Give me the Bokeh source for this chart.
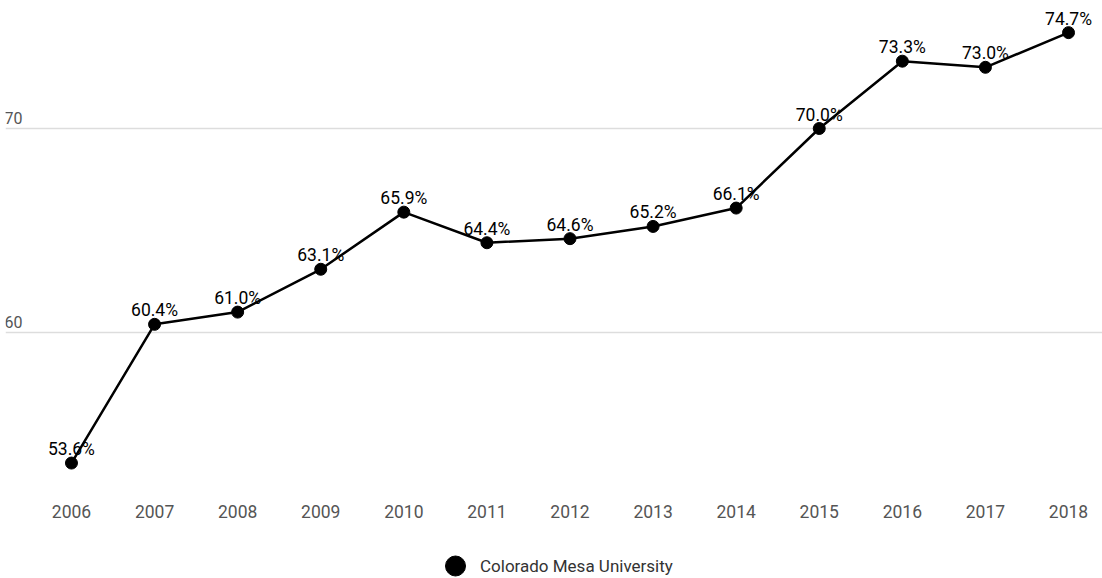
from bokeh.plotting import figure
from bokeh.layouts import column
from bokeh.models import ColumnDataSource, Legend, LegendItem, FixedTicker, Range1d
from bokeh.core.properties import value
from bokeh.embed import file_html
from bokeh.resources import INLINE

years = [2006, 2007, 2008, 2009, 2010, 2011, 2012, 2013, 2014, 2015, 2016, 2017, 2018]
rates = [53.6, 60.4, 61.0, 63.1, 65.9, 64.4, 64.6, 65.2, 66.1, 70.0, 73.3, 73.0, 74.7]
y_ticks = [60, 70]
series_name = "Colorado Mesa University"

src = ColumnDataSource(dict(x=years, y=rates, lab=[f"{v:.1f}%" for v in rates]))

p = figure(width=1102, height=540, output_backend="svg", toolbar_location=None,
           x_range=Range1d(2005.206, 2018.409), y_range=Range1d(52.255, 76.275),
           min_border_left=5, min_border_right=0, min_border_top=0, min_border_bottom=50)
p.outline_line_color = None
p.background_fill_color = "white"
p.border_fill_color = "white"

p.yaxis.visible = False
p.xgrid.visible = False
p.ygrid.ticker = FixedTicker(ticks=y_ticks)
p.ygrid.grid_line_color = "#dddddd"
p.ygrid.grid_line_width = 1.5

ax = p.xaxis[0]
ax.ticker = FixedTicker(ticks=years)
ax.axis_line_color = None
ax.major_tick_line_color = None
ax.minor_tick_line_color = None
ax.major_tick_out = 0
ax.major_tick_in = 0
ax.major_label_standoff = 14
ax.major_label_text_font = "Roboto"
ax.major_label_text_font_size = "17.5px"
ax.major_label_text_color = "#555555"

# y tick labels drawn inside the frame (clipped at left like the reference)
ysrc = ColumnDataSource(dict(x=[2005.206] * len(y_ticks), y=y_ticks, t=[str(v) for v in y_ticks]))
p.text(x="x", y="y", text="t", source=ysrc, x_offset=-1, y_offset=-5,
       text_font=value("Roboto"), text_font_size="16px", text_color="#555555",
       text_align="left", text_baseline="bottom")

p.text(x="x", y="y", text="lab", source=src, y_offset=-4,
       text_font=value("Roboto"), text_font_size="17.5px", text_color="#000000",
       text_align="center", text_baseline="bottom")
p.line(x="x", y="y", source=src, line_color="black", line_width=2.5)
p.scatter(x="x", y="y", source=src, size=12, fill_color="black", line_color="black")

# legend strip below the chart
p2 = figure(width=1102, height=38, output_backend="svg", toolbar_location=None,
            x_range=Range1d(0, 1), y_range=Range1d(0, 1),
            min_border_left=0, min_border_right=0, min_border_top=0, min_border_bottom=0)
p2.outline_line_color = None
p2.axis.visible = False
p2.grid.visible = False
r2 = p2.scatter(x=[-10], y=[-10], size=12, fill_color="black", line_color="black")
legend = Legend(items=[LegendItem(label=series_name, renderers=[r2])],
                location=(425, -14), orientation="horizontal",
                glyph_width=50, glyph_height=53, label_standoff=0,
                padding=0, margin=0, border_line_color=None, background_fill_alpha=0,
                label_text_font="Roboto", label_text_font_size="17px",
                label_text_color="#333333")
p2.add_layout(legend, "center")

open("out.html", "w").write(file_html(column(p, p2, spacing=0), INLINE))
